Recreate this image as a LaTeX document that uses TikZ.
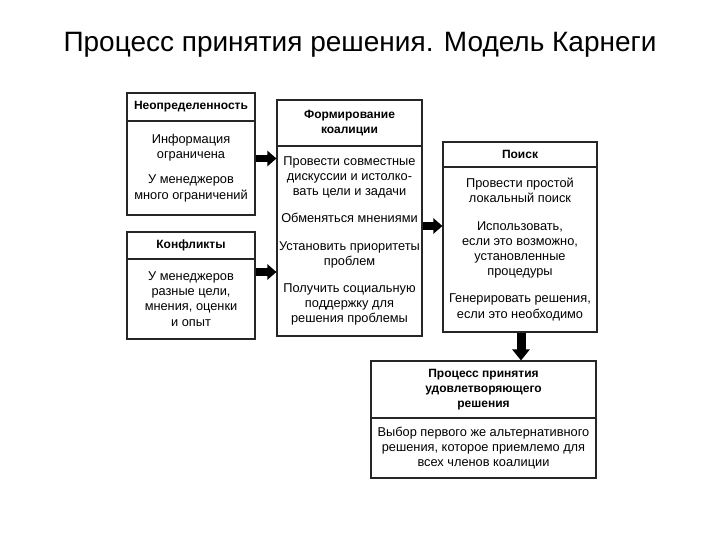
\documentclass[tikz,border=0pt]{standalone}
\usepackage{fontspec}
\setmainfont{Liberation Sans}
\usetikzlibrary{arrows.meta}
\tikzset{
  boxshape/.style={draw=black!85, line width=1.1pt, inner sep=0pt, align=center},
  headbox/.style={boxshape, font=\fontsize{12}{15}\selectfont\bfseries},
  bodybox/.style={boxshape, font=\fontsize{12.8}{15.2}\selectfont},
  blockarrow/.style={line width=7.5pt, black, -{Triangle[length=9pt,width=15pt]}},
  titletext/.style={font=\fontsize{28}{32}\selectfont}
}
\begin{document}
\begin{tikzpicture}[x=1pt,y=-1pt]
\useasboundingbox (0,0) rectangle (720,540);
\node[titletext] (title) at (360,45) {Процесс принятия решения. Модель Карнеги};
% Box 1
\node[headbox, minimum width=128pt, minimum height=28pt] (h1) at (191,107) {Неопределенность};
\node[bodybox, minimum width=128pt, minimum height=94pt] (b1) at (191,168)
  {Информация\\ограничена\\[10pt]У менеджеров\\много ограничений};
% Box 2
\node[headbox, minimum width=128pt, minimum height=27pt] (h2) at (191,245.5) {Конфликты};
\node[bodybox, minimum width=128pt, minimum height=80pt] (b2) at (191,299)
  {У менеджеров\\разные цели,\\мнения, оценки\\и опыт};
% Box 3
\node[headbox, minimum width=145pt, minimum height=46pt] (h3) at (349.5,123) {Формирование\\коалиции};
\node[bodybox, minimum width=145pt, minimum height=190pt] (b3) at (349.5,241)
  {Провести совместные\\дискуссии и истолко-\\вать цели и задачи\\[12pt]Обменяться мнениями\\[12pt]Установить приоритеты\\проблем\\[12pt]Получить социальную\\поддержку для\\решения проблемы};
% Box 4
\node[headbox, minimum width=154pt, minimum height=25pt] (h4) at (520,154.5) {Поиск};
\node[bodybox, minimum width=154pt, minimum height=165pt] (b4) at (520,249.5)
  {Провести простой\\локальный поиск\\[12pt]Использовать,\\если это возможно,\\установленные\\процедуры\\[12pt]Генерировать решения,\\если это необходимо};
% Box 5
\node[headbox, minimum width=225pt, minimum height=57pt] (h5) at (483.5,389.5)
  {Процесс принятия\\удовлетворяющего\\решения};
\node[bodybox, minimum width=225pt, minimum height=60pt] (b5) at (483.5,448)
  {Выбор первого же альтернативного\\решения, которое приемлемо для\\всех членов коалиции};
% Arrows
\draw[blockarrow] (b1.east |- 0,158.5) -- (b3.west |- 0,158.5);
\draw[blockarrow] (b2.east |- 0,272) -- (b3.west |- 0,272);
\draw[blockarrow] (b3.east |- 0,226) -- (b4.west |- 0,226);
\draw[blockarrow, line width=9pt, -{Triangle[length=11pt,width=17pt]}] (b4.south -| 521,0) -- (h5.north -| 521,0);
\end{tikzpicture}
\end{document}
